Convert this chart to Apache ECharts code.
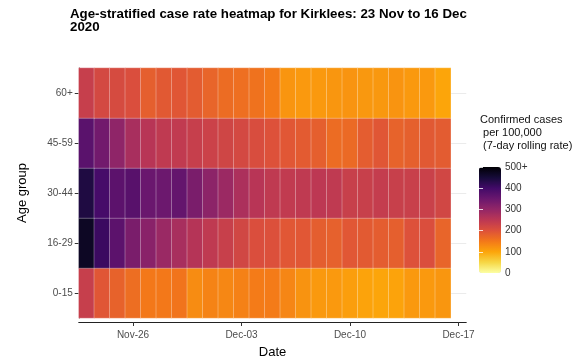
<!DOCTYPE html>
<html>
<head>
<meta charset="utf-8">
<script src="https://cdn.jsdelivr.net/npm/echarts@6/dist/echarts.min.js"></script>
<style>html,body{margin:0;padding:0;background:#fff}#c{width:586px;height:362px}</style>
</head>
<body>
<div id="c"></div>
<script>
// Date categories (one per day); last one has no data and only extends the axis
const dates = ['Nov-23','Nov-24','Nov-25','Nov-26','Nov-27','Nov-28','Nov-29','Nov-30',
  'Dec-01','Dec-02','Dec-03','Dec-04','Dec-05','Dec-06','Dec-07','Dec-08','Dec-09',
  'Dec-10','Dec-11','Dec-12','Dec-13','Dec-14','Dec-15','Dec-16','Dec-17'];
const xTickLabels = ['Nov-26','Dec-03','Dec-10','Dec-17'];
const ageGroups = ['0-15','16-29','30-44','45-59','60+'];
const legendTicks = [0,100,200,300,400,500];

// Confirmed cases per 100,000 (7-day rolling rate), 23 Nov .. 16 Dec
const rate0_15  = [235,193,178,163,150,150,155,128,138,133,140,147,147,135,120,113,113,108,102,100,102,113,113,117];
const rate16_29 = [470,408,368,330,312,292,275,258,245,233,220,205,202,192,192,183,180,192,188,185,182,200,205,175];
const rate30_44 = [440,395,368,372,350,348,357,330,308,290,270,255,245,242,245,248,245,233,233,238,233,232,230,220];
const rate45_59 = [370,340,305,275,255,245,242,235,228,222,215,208,200,192,187,182,165,168,185,193,177,181,190,186];
const rate60p   = [235,215,212,205,182,190,193,186,175,165,162,158,148,118,113,113,117,119,115,115,119,113,113,100];

const rows = [rate0_15, rate16_29, rate30_44, rate45_59, rate60p];
const heatData = [];
rows.forEach((r, yi) => r.forEach((v, xi) => heatData.push([xi, yi, v])));

// reversed inferno: low = pale yellow, high = black
const infernoRev = ['#FCFFA4','#F6D746','#FCA50A','#F37819','#DD513A','#BC3754','#932667','#6A176E','#420A68','#160B39','#000004'];
const FONT = 'Liberation Sans, Arial, sans-serif';

const chart = echarts.init(document.getElementById('c'), null, {renderer: 'canvas'});
chart.setOption({
  animation: false,
  backgroundColor: '#fff',
  textStyle: {fontFamily: FONT},
  title: [{
    text: 'Age-stratified case rate heatmap for Kirklees: 23 Nov to 16 Dec\n2020',
    left: 70, top: 8, padding: 0,
    textStyle: {fontSize: 13.3, fontWeight: 'bold', color: '#000', lineHeight: 13, fontFamily: FONT}
  }, {
    text: 'Confirmed cases\n per 100,000\n (7-day rolling rate)',
    left: 480, top: 113, padding: 0,
    textStyle: {fontSize: 11, fontWeight: 'normal', color: '#111', lineHeight: 13, fontFamily: FONT}
  }],
  grid: [
    {left: 78.75, top: 68, width: 387.5, height: 250, outerBoundsMode: 'none', containLabel: false},
    {left: 479, top: 167, width: 22, height: 106, outerBoundsMode: 'none', containLabel: false}
  ],
  xAxis: [{
    type: 'category', data: dates, gridIndex: 0, offset: 4,
    axisLine: {show: true, lineStyle: {color: '#222', width: 1}},
    axisTick: {show: true, alignWithLabel: true, length: 4, lineStyle: {color: '#333'},
      interval: (i, v) => xTickLabels.includes(v)},
    axisLabel: {interval: (i, v) => xTickLabels.includes(v), fontSize: 10, color: '#4d4d4d', margin: 8, fontFamily: FONT},
    splitLine: {show: false},
    name: 'Date', nameLocation: 'middle', nameGap: 24,
    nameTextStyle: {fontSize: 13, color: '#000', fontFamily: FONT}
  }, {
    type: 'value', gridIndex: 1, show: false, min: 0, max: 1
  }],
  yAxis: [{
    type: 'category', data: ageGroups, gridIndex: 0,
    axisLine: {show: true, lineStyle: {color: '#222', width: 1}},
    axisTick: {show: true, alignWithLabel: true, length: 4, lineStyle: {color: '#333'}},
    axisLabel: {fontSize: 10, color: '#4d4d4d', margin: 6, fontFamily: FONT},
    splitLine: {show: true, alignWithLabel: true, lineStyle: {color: '#ebebeb'}},
    name: 'Age group', nameLocation: 'middle', nameGap: 50, nameRotate: 90,
    nameTextStyle: {fontSize: 13, color: '#000', fontFamily: FONT}
  }, {
    type: 'value', gridIndex: 1, min: 0, max: 500, interval: 100, position: 'right', z: 10,
    axisLine: {show: false},
    axisTick: {show: true, inside: true, length: 4, lineStyle: {color: 'rgba(255,255,255,0.8)'}},
    axisLabel: {fontSize: 10, color: '#333', margin: 4, fontFamily: FONT,
      formatter: v => legendTicks.includes(v) ? (v === 500 ? '500+' : String(v)) : ''},
    splitLine: {show: false}
  }, {
    type: 'value', gridIndex: 1, min: 0, max: 500, interval: 100, position: 'left', z: 10,
    axisLine: {show: false},
    axisTick: {show: true, inside: true, length: 4, lineStyle: {color: 'rgba(255,255,255,0.8)'}},
    axisLabel: {show: false},
    splitLine: {show: false}
  }],
  visualMap: {
    type: 'continuous', min: 0, max: 500, dimension: 2, seriesIndex: 0,
    calculable: false, orient: 'vertical', left: 479, top: 167, padding: 0,
    itemWidth: 22, itemHeight: 106, text: null, showLabel: false,
    inRange: {color: infernoRev}
  },
  series: [{
    type: 'heatmap', xAxisIndex: 0, yAxisIndex: 0, data: heatData,
    itemStyle: {borderColor: 'rgba(255,255,255,0.3)', borderWidth: 1},
    emphasis: {disabled: true}, label: {show: false}
  }]
});
</script>
</body>
</html>
